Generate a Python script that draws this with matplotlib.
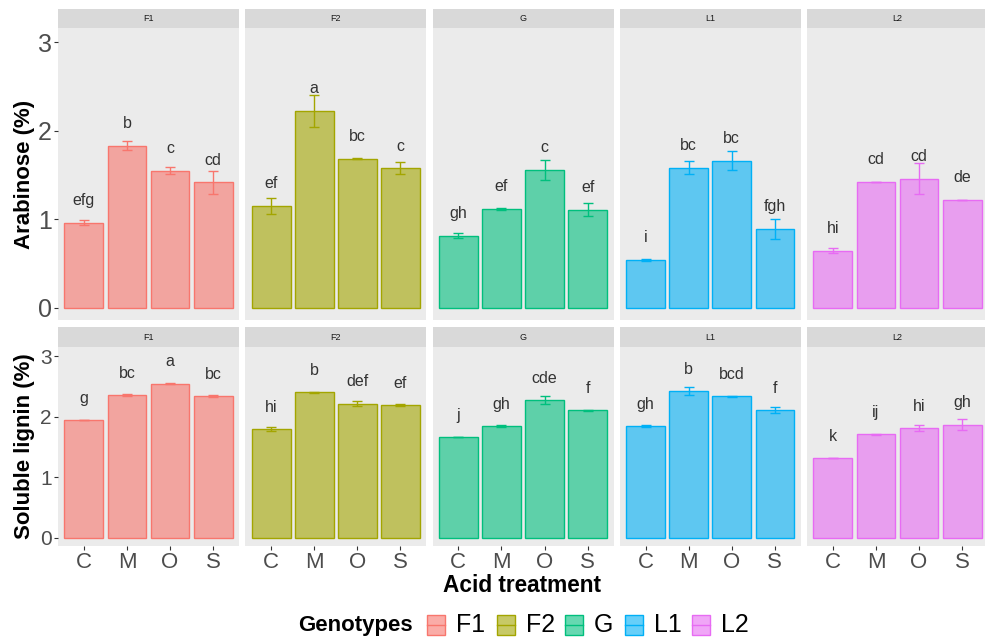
import matplotlib
matplotlib.use("Agg")
import matplotlib.pyplot as plt
from matplotlib.patches import Rectangle
from matplotlib.lines import Line2D
import numpy as np

plt.rcParams['font.family'] = ['Liberation Sans', 'DejaVu Sans']

# genotypes (facets) and acid treatments (x categories)
genotypes = ["F1", "F2", "G", "L1", "L2"]
treatments = ["C", "M", "O", "S"]
colors = ["#F8766D", "#A3A500", "#00BF7D", "#00B0F6", "#E76BF3"]

# arabinose (%) means, standard errors and letter groups
arab_mean = {
    "F1": [0.96, 1.83, 1.545, 1.417],
    "F2": [1.15, 2.22, 1.683, 1.575],
    "G":  [0.81, 1.113, 1.556, 1.105],
    "L1": [0.537, 1.58, 1.66, 0.887],
    "L2": [0.643, 1.424, 1.458, 1.221],
}
arab_se = {
    "F1": [0.025, 0.05, 0.04, 0.13],
    "F2": [0.09, 0.18, 0.01, 0.068],
    "G":  [0.028, 0.01, 0.11, 0.073],
    "L1": [0.015, 0.075, 0.105, 0.113],
    "L2": [0.025, 0.0, 0.173, 0.0],
}
arab_letters = {
    "F1": ["efg", "b", "c", "cd"],
    "F2": ["ef", "a", "bc", "c"],
    "G":  ["gh", "ef", "c", "ef"],
    "L1": ["i", "bc", "bc", "fgh"],
    "L2": ["hi", "cd", "cd", "de"],
}

# soluble lignin (%) means, standard errors and letter groups
lig_mean = {
    "F1": [1.94, 2.36, 2.545, 2.34],
    "F2": [1.795, 2.40, 2.214, 2.19],
    "G":  [1.658, 1.84, 2.27, 2.105],
    "L1": [1.845, 2.418, 2.336, 2.105],
    "L2": [1.316, 1.707, 1.807, 1.868],
}
lig_se = {
    "F1": [0.005, 0.02, 0.01, 0.01],
    "F2": [0.04, 0.01, 0.047, 0.01],
    "G":  [0.0, 0.015, 0.07, 0.01],
    "L1": [0.015, 0.063, 0.01, 0.05],
    "L2": [0.0, 0.01, 0.047, 0.09],
}
lig_letters = {
    "F1": ["g", "bc", "a", "bc"],
    "F2": ["hi", "b", "def", "ef"],
    "G":  ["j", "gh", "cde", "f"],
    "L1": ["gh", "b", "bcd", "f"],
    "L2": ["k", "ij", "hi", "gh"],
}

W, H = 985, 641
fig = plt.figure(figsize=(W / 100, H / 100), dpi=100)
fig.patch.set_facecolor("white")


def px_axes(x0, y0, w, h):
    return fig.add_axes([x0 / W, 1 - (y0 + h) / H, w / W, h / H])


panel_w = 181
pitch = 187.25
rows = [
    # strip top, strip bottom, panel bottom, data, se, letters, label offset,
    # y title, y tick size
    (9.3, 28.3, 320, arab_mean, arab_se, arab_letters, 0.25, "Arabinose (%)", 18),
    (327.3, 346.7, 546, lig_mean, lig_se, lig_letters, 0.36, "Soluble lignin (%)", 15),
]

x = np.arange(1, len(treatments) + 1)
for r, (s0, s1, p1, means, ses, letters, off, ylab, ysize) in enumerate(rows):
    for i, g in enumerate(genotypes):
        left = 58 + i * pitch
        # facet strip
        sax = px_axes(left, s0, panel_w, s1 - s0)
        sax.set_facecolor("#D9D9D9")
        sax.set_xticks([]); sax.set_yticks([])
        for sp in sax.spines.values():
            sp.set_visible(False)
        sax.text(0.5, 0.5, g, ha="center", va="center", fontsize=6.5,
                 color="#1A1A1A", transform=sax.transAxes)

        ax = px_axes(left, s1, panel_w, p1 - s1)
        ax.set_facecolor("#EBEBEB")
        for sp in ax.spines.values():
            sp.set_visible(False)
        m = np.array(means[g]); e = np.array(ses[g])
        ax.bar(x, m, width=0.9, color=colors[i], alpha=0.6, zorder=2)
        ax.bar(x, m, width=0.9, facecolor="none", edgecolor=colors[i],
               linewidth=1.0, zorder=3)
        ax.errorbar(x, m, yerr=e, fmt="none", ecolor=colors[i],
                    elinewidth=1.0, capsize=3.6, capthick=1.0, zorder=4)
        for xi, yi, lab in zip(x, m, letters[g]):
            ax.text(xi, yi + off, lab, ha="center", va="center",
                    fontsize=11.5, color="#333333", zorder=5)
        ax.set_xlim(0.4, 4.6)
        ax.set_ylim(-0.14, 3.155)
        ax.set_yticks([0, 1, 2, 3])
        ax.tick_params(axis="both", length=3, width=0.8, color="#333333",
                       labelcolor="#4D4D4D", pad=1.5)
        ax.tick_params(axis="y", labelsize=ysize)
        ax.set_xticks(x)
        if r == 1:
            ax.set_xticklabels(treatments, fontsize=16)
        else:
            ax.tick_params(axis="x", length=0, labelbottom=False)
        if i > 0:
            ax.tick_params(axis="y", length=0, labelleft=False)
    # y title centred on the row's panels
    fig.text(25 / W, 1 - (s1 + p1) / 2 / H, ylab, rotation=90, ha="center",
             va="center", fontsize=16, fontweight="bold")

fig.text(522 / W, 1 - 585 / H, "Acid treatment", ha="center", va="center",
         fontsize=16.3, fontweight="bold")

# legend along the bottom
ly = 1 - 625 / H
fig.text(298 / W, ly, "Genotypes", ha="left", va="center", fontsize=16,
         fontweight="bold")
key_x = [427, 497, 565, 625, 692]
for kx, g, c in zip(key_x, genotypes, colors):
    kw, kh = 18, 20
    fig.patches.append(Rectangle((kx / W, ly - kh / 2 / H), kw / W, kh / H,
                                 transform=fig.transFigure, facecolor=c,
                                 alpha=0.6, edgecolor="none"))
    fig.patches.append(Rectangle((kx / W, ly - kh / 2 / H), kw / W, kh / H,
                                 transform=fig.transFigure, facecolor="none",
                                 edgecolor=c, linewidth=1.0))
    fig.lines.append(Line2D([kx / W, (kx + kw) / W], [ly, ly],
                            transform=fig.transFigure, color=c, linewidth=1.0))
    fig.text((kx + kw + 11) / W, ly, g, ha="left", va="center", fontsize=18)

fig.savefig("out.png", dpi=100)
